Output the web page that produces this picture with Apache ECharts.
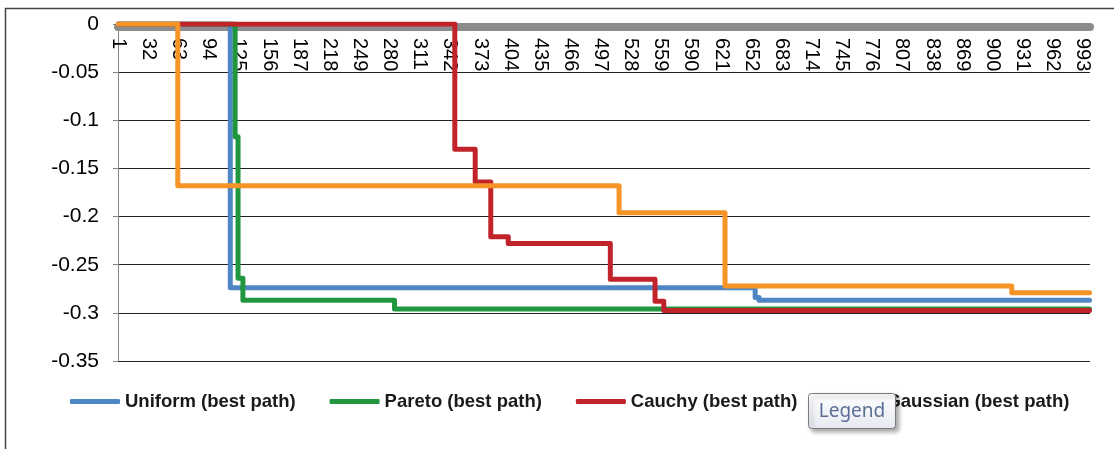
<!DOCTYPE html>
<html>
<head>
<meta charset="utf-8">
<script src="https://cdn.jsdelivr.net/npm/echarts@6/dist/echarts.min.js"></script>
<style>
  html, body { margin: 0; padding: 0; background: #ffffff; }
  #chart { width: 1114px; height: 449px; }
</style>
</head>
<body>
<div id="chart"></div>
<script>
// Iteration numbers along the horizontal axis
const iterations = [];
for (let i = 1; i <= 1000; i++) iterations.push(String(i));

// Value-axis ticks
const yTicks = [0, -0.05, -0.1, -0.15, -0.2, -0.25, -0.3, -0.35];

// Best path so far: [iteration where the value changes, new value]
const uniformSteps  = [[1, 0], [116, -0.274], [656, -0.284], [660, -0.287], [1000, -0.287]];
const paretoSteps   = [[1, 0], [121, -0.117], [124, -0.264], [129, -0.287], [285, -0.296], [1000, -0.296]];
const cauchySteps   = [[1, 0], [347, -0.130], [368, -0.164], [384, -0.221], [402, -0.228], [507, -0.265], [553, -0.288], [562, -0.2975], [1000, -0.2975]];
const gaussianSteps = [[1, 0], [62, -0.168], [516, -0.196], [625, -0.272], [920, -0.279], [1000, -0.279]];

const seriesNames  = ['Uniform (best path)', 'Pareto (best path)', 'Cauchy (best path)', 'Gaussian (best path)'];
const seriesColors = ['#4f86c6', '#20963f', '#c1232b', '#f79428'];
const seriesSteps  = [uniformSteps, paretoSteps, cauchySteps, gaussianSteps];

const chart = echarts.init(document.getElementById('chart'), null, { renderer: 'canvas' });

const series = seriesNames.map((name, k) => ({
  name: name,
  type: 'line',
  step: 'end',
  symbol: 'none',
  showSymbol: false,
  animation: false,
  color: seriesColors[k],
  lineStyle: { width: 5, color: seriesColors[k], cap: 'round', join: 'round' },
  data: seriesSteps[k].map(([it, v]) => [String(it), v])
}));

chart.setOption({
  animation: false,
  backgroundColor: '#ffffff',
  grid: { left: 118, right: 24, top: 24, bottom: 88, containLabel: false, outerBoundsMode: 'none' },
  legend: {
    data: seriesNames,
    left: 70,
    top: 392,
    padding: 0,
    icon: 'roundRect',
    itemWidth: 50,
    itemHeight: 5,
    itemGap: 34,
    textStyle: { fontFamily: 'Liberation Sans', fontWeight: 'bold', fontSize: 18.5, color: '#1a1a1a' }
  },
  xAxis: {
    type: 'category',
    data: iterations,
    boundaryGap: true,
    position: 'top',
    offset: -3,
    axisLine: { show: true, onZero: false, lineStyle: { color: '#8c8c8c', width: 8 } },
    axisTick: { show: false },
    axisLabel: {
      inside: true,
      rotate: 90,
      interval: 30,
      margin: 11,
      fontFamily: 'Liberation Sans',
      fontSize: 20,
      color: '#000000'
    },
    splitLine: { show: false }
  },
  yAxis: {
    type: 'value',
    min: yTicks[yTicks.length - 1],
    max: yTicks[0],
    interval: 0.05,
    axisLine: { show: true, lineStyle: { color: '#868686', width: 1 } },
    axisTick: { show: true, length: 5, lineStyle: { color: '#868686', width: 1 } },
    axisLabel: {
      margin: 19,
      fontFamily: 'Liberation Sans',
      fontSize: 21,
      color: '#000000',
      formatter: function (v) {
        const t = yTicks.find(x => Math.abs(x - v) < 1e-9);
        return String(t === undefined ? v : t);
      }
    },
    splitLine: { show: true, lineStyle: { color: '#202020', width: 1 } }
  },
  series: series,
  graphic: [
    {
      // chart frame
      type: 'polyline',
      z: 50,
      silent: true,
      shape: { points: [[5.5, 449], [5.5, 8.5], [1114, 8.5]] },
      style: { stroke: '#444444', lineWidth: 1.5, fill: null }
    },
    {
      // hover hint box over the legend
      type: 'rect',
      z: 100,
      silent: true,
      shape: { x: 808.5, y: 393.5, width: 87, height: 35, r: 3 },
      style: {
        fill: new echarts.graphic.LinearGradient(0, 0, 0, 1, [
          { offset: 0, color: '#ffffff' },
          { offset: 1, color: '#e6e9f1' }
        ]),
        stroke: '#7a7a7a',
        lineWidth: 1,
        shadowBlur: 4,
        shadowOffsetX: 3,
        shadowOffsetY: 3,
        shadowColor: 'rgba(0,0,0,0.35)'
      }
    },
    {
      type: 'text',
      z: 101,
      silent: true,
      x: 852,
      y: 411.5,
      style: {
        text: 'Legend',
        fontFamily: 'Noto Sans',
        fontSize: 19,
        fill: '#5a6f93',
        align: 'center',
        verticalAlign: 'middle'
      }
    }
  ]
});
</script>
</body>
</html>
